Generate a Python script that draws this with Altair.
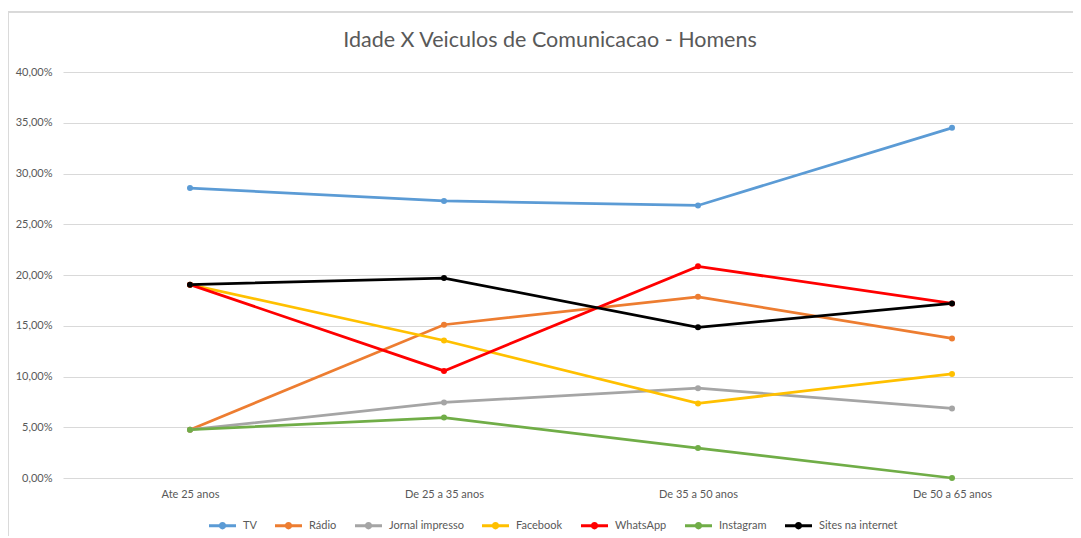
import altair as alt
import pandas as pd

categories = ["Ate 25 anos", "De 25 a 35 anos", "De 35 a 50 anos", "De 50 a 65 anos"]
series = ["TV", "Rádio", "Jornal impresso", "Facebook", "WhatsApp", "Instagram", "Sites na internet"]
tv = [28.57, 27.30, 26.85, 34.50]
radio = [4.76, 15.10, 17.85, 13.75]
jornal = [4.76, 7.45, 8.85, 6.85]
facebook = [19.05, 13.55, 7.35, 10.25]
whatsapp = [19.05, 10.55, 20.85, 17.20]
instagram = [4.76, 5.95, 2.95, 0.00]
sites = [19.05, 19.70, 14.85, 17.20]
colors = ["#5B9BD5", "#ED7D31", "#A5A5A5", "#FFC000", "#FF0000", "#70AD47", "#000000"]
y_ticks = [0, 5, 10, 15, 20, 25, 30, 35, 40]

values = [tv, radio, jornal, facebook, whatsapp, instagram, sites]
rows = []
for s, vals in zip(series, values):
    for c, v in zip(categories, vals):
        rows.append({"cat": c, "serie": s, "val": v, "ord": series.index(s)})
df = pd.DataFrame(rows)

FONT = "Lato"
GREY = "#595959"
GRID = "#D9D9D9"

x_enc = alt.X("cat:N", sort=categories, title=None,
              scale=alt.Scale(padding=0.5, range=[0, 1016]),
              axis=alt.Axis(labelAngle=0, ticks=False, tickSize=0, labelPadding=10,
                            domain=False, grid=False, labelFontSize=11,
                            labelColor=GREY, labelFont=FONT))
y_enc = alt.Y("val:Q", title=None,
              scale=alt.Scale(domain=[0, 40], nice=False, zero=True),
              axis=alt.Axis(values=y_ticks, ticks=False, tickSize=0, labelPadding=11,
                            domain=False, gridColor=GRID, gridWidth=1,
                            labelFontSize=11, labelColor=GREY, labelFont=FONT,
                            labelExpr="replace(format(datum.value, '.2f'), '.', ',') + '%'"))

legend = alt.Legend(title=None, orient="none", legendX=146, legendY=440,
                    direction="horizontal",
                    symbolType="M-1,-0.11L1,-0.11L1,0.11L-1,0.11Z M-0.27,0A0.27,0.27 0 1,1 0.27,0A0.27,0.27 0 1,1 -0.27,0Z",
                    symbolSize=729, symbolStrokeWidth=0,
                    labelFontSize=11, labelColor=GREY, labelFont=FONT,
                    columnPadding=18, labelOffset=7)

color_enc = alt.Color("serie:N", sort=series,
                      scale=alt.Scale(domain=series, range=colors),
                      legend=legend)

base = alt.Chart(df).encode(x=x_enc, y=y_enc, color=color_enc)

lines = base.mark_line(strokeWidth=2.75).encode(order=alt.Order("ord:Q"))
points = base.mark_point(filled=True, size=36, opacity=1)

border_left = alt.Chart(df).mark_rule(color=GRID, strokeWidth=1).encode(
    x=alt.value(-55), y=alt.value(-60), y2=alt.value(470))
border_top = alt.Chart(df).mark_rule(color=GRID, strokeWidth=1).encode(
    x=alt.value(-55), x2=alt.value(1020), y=alt.value(-60))

chart = alt.layer(border_left, border_top, lines, points).properties(
    width=1010, height=406,
    autosize=alt.AutoSizeParams(type="none"),
    padding={"left": 55, "top": 64, "right": 0, "bottom": 58},
    title=alt.Title("Idade X Veiculos de Comunicacao - Homens", fontSize=21.5,
                    font=FONT, color=GREY, fontWeight="normal", anchor="middle",
                    frame="group", dx=-18, offset=-57, baseline="alphabetic"),
).configure_view(stroke=None)

chart.save("out.html", embed_options={"renderer": "svg", "actions": False})
